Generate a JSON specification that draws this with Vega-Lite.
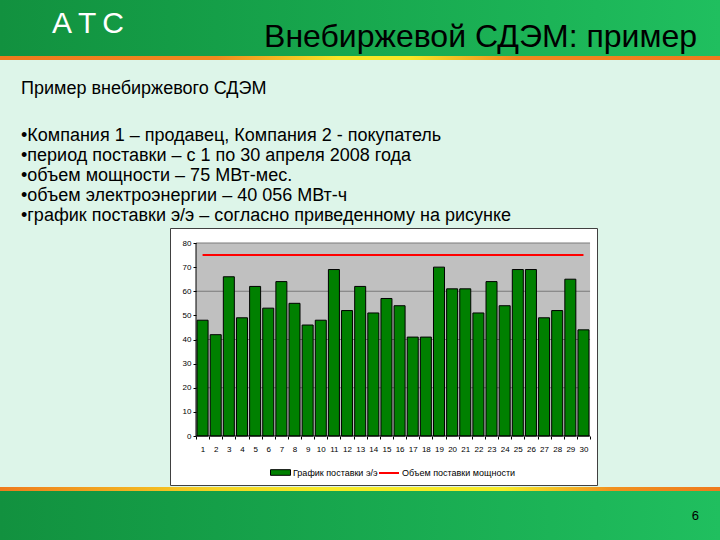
{
  "$schema": "https://vega.github.io/schema/vega-lite/v6.json",
  "background": "#ddf5e9",
  "padding": 0,
  "spacing": 0,
  "columns": 3,
  "align": "each",
  "bounds": "flush",
  "config": {"view": {"stroke": null}, "font": "Liberation Sans"},
  "concat": [
    {"width": 170, "height": 56, "data": {"values": [{}]},
     "mark": {"type": "rect", "fill": {"gradient": "linear", "x1": 0, "y1": 0, "x2": 1, "y2": 0, "stops": [{"offset": 0, "color": "#12913f"}, {"offset": 1, "color": "#149c46"}]}}},
    {"width": 427, "height": 56, "data": {"values": [{}]},
     "mark": {"type": "rect", "fill": {"gradient": "linear", "x1": 0, "y1": 0, "x2": 1, "y2": 0, "stops": [{"offset": 0, "color": "#149c46"}, {"offset": 1, "color": "#1db759"}]}}},
    {"width": 123, "height": 56, "data": {"values": [{}]},
     "mark": {"type": "rect", "fill": {"gradient": "linear", "x1": 0, "y1": 0, "x2": 1, "y2": 0, "stops": [{"offset": 0, "color": "#1db759"}, {"offset": 1, "color": "#20bf5f"}]}}},

    {"width": 170, "height": 4, "data": {"values": [{}]},
     "mark": {"type": "rect", "fill": {"gradient": "linear", "x1": 0, "y1": 0, "x2": 1, "y2": 0, "stops": [{"offset": 0, "color": "#ef7a1d"}, {"offset": 1, "color": "#f0861e"}]}},
     "title": {"text": "А\u2009Т\u2009С", "anchor": "start", "orient": "top", "frame": "group", "dx": 52, "offset": 17, "fontSize": 30, "fontWeight": "normal", "color": "#ffffff"}},
    {"width": 427, "height": 4, "data": {"values": [{}]},
     "mark": {"type": "rect", "fill": {"gradient": "linear", "x1": 0, "y1": 0, "x2": 1, "y2": 0, "stops": [{"offset": 0, "color": "#f0861e"}, {"offset": 0.108, "color": "#f08a1e"}, {"offset": 0.395, "color": "#f7e727"}, {"offset": 0.563, "color": "#f7e727"}, {"offset": 0.816, "color": "#f08a1e"}, {"offset": 1, "color": "#f0841e"}]}}},
    {"width": 123, "height": 4, "data": {"values": [{}]},
     "mark": {"type": "rect", "fill": {"gradient": "linear", "x1": 0, "y1": 0, "x2": 1, "y2": 0, "stops": [{"offset": 0, "color": "#f0841e"}, {"offset": 1, "color": "#ef7a1d"}]}},
     "title": {"text": "Внебиржевой СДЭМ: пример", "anchor": "end", "orient": "top", "frame": "group", "dx": -23, "offset": 2, "fontSize": 32, "fontWeight": "normal", "color": "#000000"}},

    {"width": 170, "height": 168, "data": {"values": []}, "mark": "rect"},
    {"width": 427, "height": 168, "data": {"values": []}, "mark": "rect"},
    {"width": 123, "height": 168, "data": {"values": []}, "mark": "rect"},

    {"width": 170, "height": 257, "data": {"values": []}, "mark": "rect",
     "title": {
        "text": "Пример внебиржевого СДЭМ",
        "subtitle": [
          "\u00a0•Компания 1 – продавец, Компания 2 - покупатель",
          "\u00a0•период поставки – с 1 по 30 апреля 2008 года",
          "\u00a0•объем мощности – 75 МВт-мес.",
          "\u00a0•объем электроэнергии – 40 056 МВт-ч",
          "\u00a0•график поставки э/э – согласно приведенному на рисунке"
        ],
        "anchor": "start", "orient": "top", "frame": "group", "dx": 21, "offset": 3,
        "fontSize": 18, "fontWeight": "normal", "color": "#000000",
        "subtitleFontSize": 18, "subtitleColor": "#000000", "subtitleLineHeight": 20, "subtitlePadding": 29, "subtitleFont": "Liberation Sans"
     }},
    {
      "width": 427, "height": 257,
      "view": {"fill": "#ffffff", "stroke": "#404040", "strokeWidth": 1},
      "data": {"values": [
        {"day": 1, "energy": 48, "capacity": 75},
        {"day": 2, "energy": 42, "capacity": 75},
        {"day": 3, "energy": 66, "capacity": 75},
        {"day": 4, "energy": 49, "capacity": 75},
        {"day": 5, "energy": 62, "capacity": 75},
        {"day": 6, "energy": 53, "capacity": 75},
        {"day": 7, "energy": 64, "capacity": 75},
        {"day": 8, "energy": 55, "capacity": 75},
        {"day": 9, "energy": 46, "capacity": 75},
        {"day": 10, "energy": 48, "capacity": 75},
        {"day": 11, "energy": 69, "capacity": 75},
        {"day": 12, "energy": 52, "capacity": 75},
        {"day": 13, "energy": 62, "capacity": 75},
        {"day": 14, "energy": 51, "capacity": 75},
        {"day": 15, "energy": 57, "capacity": 75},
        {"day": 16, "energy": 54, "capacity": 75},
        {"day": 17, "energy": 41, "capacity": 75},
        {"day": 18, "energy": 41, "capacity": 75},
        {"day": 19, "energy": 70, "capacity": 75},
        {"day": 20, "energy": 61, "capacity": 75},
        {"day": 21, "energy": 61, "capacity": 75},
        {"day": 22, "energy": 51, "capacity": 75},
        {"day": 23, "energy": 64, "capacity": 75},
        {"day": 24, "energy": 54, "capacity": 75},
        {"day": 25, "energy": 69, "capacity": 75},
        {"day": 26, "energy": 69, "capacity": 75},
        {"day": 27, "energy": 49, "capacity": 75},
        {"day": 28, "energy": 52, "capacity": 75},
        {"day": 29, "energy": 65, "capacity": 75},
        {"day": 30, "energy": 44, "capacity": 75}
      ]},
      "resolve": {"axis": {"x": "independent"}},
      "layer": [
        {
          "data": {"values": [{}]},
          "mark": {"type": "rect", "color": "#c0c0c0"},
          "encoding": {
            "x": {"datum": 0.5, "type": "quantitative", "axis": null},
            "x2": {"datum": 30.5},
            "y": {"datum": 0, "type": "quantitative", "axis": null},
            "y2": {"datum": 80}
          }
        },
        {
          "data": {"values": [{"grid": 20}, {"grid": 40}, {"grid": 60}, {"grid": 80}]},
          "mark": {"type": "rule", "color": "#7a7a7a", "strokeWidth": 1},
          "encoding": {
            "x": {"datum": 0.5, "type": "quantitative", "axis": null},
            "x2": {"datum": 30.5},
            "y": {"field": "grid", "type": "quantitative", "axis": null}
          }
        },
        {
          "mark": {"type": "bar", "stroke": "#000000", "strokeWidth": 1, "size": 11},
          "encoding": {
            "x": {"field": "day", "type": "quantitative",
              "scale": {"domain": [-1.48, 31.03], "nice": false, "zero": false, "padding": 0},
              "axis": {"orient": "bottom", "values": [1,2,3,4,5,6,7,8,9,10,11,12,13,14,15,16,17,18,19,20,21,22,23,24,25,26,27,28,29,30], "offset": -49, "domain": false, "ticks": false, "grid": false, "labelPadding": 9, "labelFontSize": 8, "labelColor": "#000000", "labelOverlap": false, "labelFlush": false, "title": null}},
            "y": {"field": "energy", "type": "quantitative",
              "scale": {"domain": [-20.31, 86.22], "nice": false, "zero": false, "padding": 0},
              "axis": null},
            "y2": {"datum": 0},
            "fill": {"datum": "График поставки э/э", "type": "nominal",
              "scale": {"range": ["#008000"]},
              "legend": {"orient": "none", "legendX": 270, "legendY": 462, "title": null, "padding": 0, "symbolType": "M-1,-0.28H1V0.28H-1Z", "symbolSize": 400, "symbolStrokeColor": "#000000", "symbolStrokeWidth": 1, "labelFontSize": 9, "labelColor": "#000000", "labelOffset": 2}}
          }
        },
        {
          "mark": {"type": "line", "strokeWidth": 2},
          "encoding": {
            "x": {"field": "day", "type": "quantitative",
              "scale": {"domain": [-1.48, 31.03], "nice": false, "zero": false, "padding": 0},
              "axis": null},
            "y": {"field": "capacity", "type": "quantitative", "axis": null},
            "stroke": {"datum": "Объем поставки мощности", "type": "nominal",
              "scale": {"range": ["#ff0000"]},
              "legend": {"orient": "none", "legendX": 378, "legendY": 462, "title": null, "padding": 0, "symbolType": "stroke", "symbolSize": 400, "symbolStrokeWidth": 2, "labelFontSize": 9, "labelColor": "#000000", "labelOffset": 2}}
          }
        },
        {
          "data": {"values": [{}]},
          "mark": {"type": "rule", "color": "#000000", "strokeWidth": 1},
          "encoding": {
            "x": {"datum": 0.5, "type": "quantitative", "axis": null},
            "x2": {"datum": 30.5},
            "y": {"datum": 0, "type": "quantitative", "axis": null}
          }
        },
        {
          "data": {"values": [{}]},
          "mark": {"type": "rule", "color": "#000000", "strokeWidth": 1},
          "encoding": {
            "x": {"datum": 0.5, "type": "quantitative", "axis": null},
            "y": {"datum": 0, "type": "quantitative", "axis": null},
            "y2": {"datum": 80}
          }
        }
      ]
    },
    {"width": 123, "height": 257, "data": {"values": []}, "mark": "rect",
     "encoding": {
       "y": {"datum": 0, "type": "quantitative",
         "scale": {"domain": [-20.31, 86.22], "nice": false, "zero": false},
         "axis": {"orient": "left", "offset": 401, "values": [0,10,20,30,40,50,60,70,80], "domain": false, "grid": false, "tickSize": 3, "tickColor": "#000000", "labelFontSize": 8, "labelPadding": 2, "labelColor": "#000000", "title": null}}
     }},

    {"width": 170, "height": 2, "data": {"values": []}, "mark": "rect"},
    {"width": 427, "height": 2, "data": {"values": []}, "mark": "rect",
     "encoding": {
       "x": {"datum": 1, "type": "quantitative",
         "scale": {"domain": [-1.48, 31.03], "nice": false, "zero": false, "padding": 0},
         "axis": {"orient": "top", "offset": 49, "values": [0.5,1.5,2.5,3.5,4.5,5.5,6.5,7.5,8.5,9.5,10.5,11.5,12.5,13.5,14.5,15.5,16.5,17.5,18.5,19.5,20.5,21.5,22.5,23.5,24.5,25.5,26.5,27.5,28.5,29.5,30.5], "labels": false, "domain": false, "grid": false, "tickSize": -3, "tickColor": "#000000", "title": null}}
     }},
    {"width": 123, "height": 2, "data": {"values": []}, "mark": "rect"},

    {"width": 170, "height": 4, "data": {"values": [{}]},
     "mark": {"type": "rect", "fill": {"gradient": "linear", "x1": 0, "y1": 0, "x2": 1, "y2": 0, "stops": [{"offset": 0, "color": "#ef7a1d"}, {"offset": 1, "color": "#f4c022"}]}}},
    {"width": 427, "height": 4, "data": {"values": [{}]},
     "mark": {"type": "rect", "fill": {"gradient": "linear", "x1": 0, "y1": 0, "x2": 1, "y2": 0, "stops": [{"offset": 0, "color": "#f4c022"}, {"offset": 0.108, "color": "#f5d323"}, {"offset": 0.361, "color": "#f7ea28"}, {"offset": 0.782, "color": "#f7ea28"}, {"offset": 1, "color": "#f29d20"}]}}},
    {"width": 123, "height": 4, "data": {"values": [{}]},
     "mark": {"type": "rect", "fill": {"gradient": "linear", "x1": 0, "y1": 0, "x2": 1, "y2": 0, "stops": [{"offset": 0, "color": "#f29d20"}, {"offset": 0.123, "color": "#f1901f"}, {"offset": 1, "color": "#ef7a1d"}]}}},

    {"width": 170, "height": 20, "data": {"values": [{}]},
     "mark": {"type": "rect", "fill": {"gradient": "linear", "x1": 0, "y1": 0, "x2": 1, "y2": 0, "stops": [{"offset": 0, "color": "#12913f"}, {"offset": 1, "color": "#149c46"}]}}},
    {"width": 427, "height": 20, "data": {"values": [{}]},
     "mark": {"type": "rect", "fill": {"gradient": "linear", "x1": 0, "y1": 0, "x2": 1, "y2": 0, "stops": [{"offset": 0, "color": "#149c46"}, {"offset": 1, "color": "#1db759"}]}}},
    {"width": 123, "height": 20, "data": {"values": [{}]},
     "mark": {"type": "rect", "fill": {"gradient": "linear", "x1": 0, "y1": 0, "x2": 1, "y2": 0, "stops": [{"offset": 0, "color": "#1db759"}, {"offset": 1, "color": "#20bf5f"}]}}},

    {"width": 170, "height": 29, "data": {"values": [{}]},
     "mark": {"type": "rect", "fill": {"gradient": "linear", "x1": 0, "y1": 0, "x2": 1, "y2": 0, "stops": [{"offset": 0, "color": "#12913f"}, {"offset": 1, "color": "#149c46"}]}}},
    {"width": 427, "height": 29, "data": {"values": [{}]},
     "mark": {"type": "rect", "fill": {"gradient": "linear", "x1": 0, "y1": 0, "x2": 1, "y2": 0, "stops": [{"offset": 0, "color": "#149c46"}, {"offset": 1, "color": "#1db759"}]}}},
    {"width": 123, "height": 29, "data": {"values": [{}]},
     "mark": {"type": "rect", "fill": {"gradient": "linear", "x1": 0, "y1": 0, "x2": 1, "y2": 0, "stops": [{"offset": 0, "color": "#1db759"}, {"offset": 1, "color": "#20bf5f"}]}},
     "title": {"text": "6", "anchor": "end", "orient": "top", "frame": "group", "dx": -21, "offset": -12, "fontSize": 13, "fontWeight": "normal", "color": "#000000"}}
  ]
}
